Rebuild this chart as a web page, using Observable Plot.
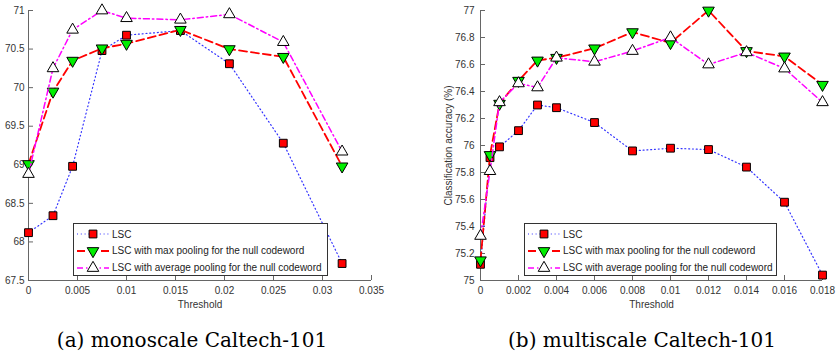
<!DOCTYPE html>
<html><head><meta charset="utf-8">
<script src="https://cdn.jsdelivr.net/npm/d3@7"></script>
<script src="https://cdn.jsdelivr.net/npm/@observablehq/plot@0.6"></script>
<style>
body{margin:0;background:#fff;}
#root{position:relative;width:837px;height:353px;overflow:hidden;font-family:"Liberation Sans",Arial,sans-serif;background:#fff;}
.panel{position:absolute;top:0;}
.legend{position:absolute;border:1px solid #333;background:#fff;box-sizing:border-box;font-size:10px;color:#222;}
.row{position:absolute;left:0;height:16px;display:flex;align-items:center;white-space:nowrap;}
.row svg{display:block;}
.caption{position:absolute;font-family:"DejaVu Serif",serif;font-size:20px;line-height:20px;color:#000;transform:translateX(-50%);white-space:nowrap;}
</style></head><body><div id="root"></div>
<script>
// ---- data ----
const seriesNames = ["LSC", "LSC with max pooling for the null codeword", "LSC with average pooling for the null codeword"];
const monoThreshold = [0, 0.0025, 0.0045, 0.0075, 0.01, 0.0155, 0.0205, 0.026, 0.032];
const monoLSC = [68.12, 68.34, 68.98, 70.48, 70.68, 70.74, 70.31, 69.28, 67.72];
const monoMax = [69.01, 69.95, 70.35, 70.51, 70.57, 70.75, 70.50, 70.40, 68.98];
const monoAvg = [68.88, 70.25, 70.75, 71.00, 70.90, 70.88, 70.95, 70.59, 69.17];
const multiThreshold = [0, 0.0005, 0.001, 0.002, 0.003, 0.004, 0.006, 0.008, 0.01, 0.012, 0.014, 0.016, 0.018];
const multiLSC = [75.12, 75.91, 75.99, 76.11, 76.30, 76.28, 76.17, 75.96, 75.98, 75.97, 75.84, 75.58, 75.04];
const multiMax = [75.15, 75.93, 76.31, 76.48, 76.63, 76.65, 76.72, 76.84, 76.76, 77.00, 76.70, 76.66, 76.45];
const multiAvg = [75.33, 75.81, 76.32, 76.46, 76.43, 76.65, 76.62, 76.70, 76.80, 76.60, 76.69, 76.57, 76.32];
const monoXTicks = [0, 0.005, 0.01, 0.015, 0.02, 0.025, 0.03, 0.035];
const monoYTicks = [67.5, 68, 68.5, 69, 69.5, 70, 70.5, 71];
const multiXTicks = [0, 0.002, 0.004, 0.006, 0.008, 0.01, 0.012, 0.014, 0.016, 0.018];
const multiYTicks = [75, 75.2, 75.4, 75.6, 75.8, 76, 76.2, 76.4, 76.6, 76.8, 77];
const xLabel = "Threshold";
const multiYLabel = "Classification accuracy (%)";
const captions = ["(a) monoscale Caltech-101", "(b) multiscale Caltech-101"];

// ---- styles ----
const axisColor = "#666";
const textColor = "#333";
const styles = [
  {stroke: "#3333ff", dash: "1,2.8", width: 1.2, symbol: "square", fill: "#ff0000", rotate: 0, r: 4.4},
  {stroke: "#ff0000", dash: "8,4", width: 1.8, symbol: "triangle", fill: "#00ee00", rotate: 180, r: 4.3},
  {stroke: "#ff00ff", dash: "6,3,1.5,3", width: 1.5, symbol: "triangle", fill: "#ffffff", rotate: 0, r: 4.3}
];
const fmt = d => String(+d.toFixed(4));

function panel(cfg) {
  const marks = [
    Plot.ruleX([cfg.xDomain[0]], {stroke: axisColor}),
    Plot.ruleY([cfg.yDomain[0]], {stroke: axisColor}),
    Plot.ruleX(cfg.xTicks, {x: d => d, y1: cfg.yDomain[0], y2: cfg.yDomain[0], insetTop: -5, stroke: axisColor}),
    Plot.ruleY(cfg.yTicks, {y: d => d, x1: cfg.xDomain[0], x2: cfg.xDomain[0], insetRight: -5, stroke: axisColor}),
    Plot.axisX(cfg.xTicks, {tickSize: 0, tickPadding: 6, tickFormat: fmt, label: null, fontSize: 10}),
    Plot.axisY(cfg.yTicks, {tickSize: 0, tickPadding: cfg.yPad, tickFormat: fmt, label: null, fontSize: 10}),
    Plot.text([xLabel], {frameAnchor: "bottom", dy: 27, fontSize: 10, fill: textColor})
  ];
  if (cfg.yLabel) marks.push(Plot.text([cfg.yLabel], {frameAnchor: "left", rotate: -90, dx: -32, textAnchor: "middle", fontSize: 10, fill: textColor}));
  cfg.series.forEach((vals, k) => {
    const s = styles[k];
    const rows = cfg.x.map((x, i) => ({x, y: vals[i]}));
    marks.push(Plot.line(rows, {x: "x", y: "y", stroke: s.stroke, strokeWidth: s.width, strokeDasharray: s.dash}));
    marks.push(Plot.dot(rows, {x: "x", y: "y", symbol: s.symbol, r: s.r, fill: s.fill, stroke: "#000", strokeWidth: 1, rotate: s.rotate}));
  });
  return Plot.plot({
    width: cfg.width, height: 320,
    marginLeft: cfg.marginLeft, marginRight: cfg.marginRight, marginTop: 10, marginBottom: 40,
    style: {fontFamily: "'Liberation Sans', Arial, sans-serif", fontSize: "10px", color: textColor, background: "transparent"},
    x: {type: "linear", domain: cfg.xDomain},
    y: {type: "linear", domain: cfg.yDomain},
    marks
  });
}

function legend(left, top, width) {
  const div = document.createElement("div");
  div.className = "legend";
  Object.assign(div.style, {left: left + "px", top: top + "px", width: width + "px", height: "53px"});
  seriesNames.forEach((name, k) => {
    const s = styles[k];
    const row = document.createElement("div");
    row.className = "row";
    row.style.top = (2 + k * 16.8) + "px";
    const svg = d3.create("svg").attr("width", 38).attr("height", 16);
    svg.append("line").attr("x1", 3).attr("x2", 35).attr("y1", 8).attr("y2", 8)
      .attr("stroke", s.stroke).attr("stroke-width", s.width).attr("stroke-dasharray", s.dash);
    const type = s.symbol === "square" ? d3.symbolSquare : d3.symbolTriangle;
    svg.append("path").attr("d", d3.symbol(type, Math.PI * s.r * s.r)())
      .attr("transform", `translate(19,8) rotate(${s.rotate})`)
      .attr("fill", s.fill).attr("stroke", "#000").attr("stroke-width", 1);
    row.appendChild(svg.node());
    const t = document.createElement("span");
    t.textContent = name;
    row.appendChild(t);
    div.appendChild(row);
  });
  return div;
}

const root = document.getElementById("root");
const p1 = panel({x: monoThreshold, series: [monoLSC, monoMax, monoAvg], xDomain: [0, 0.035], yDomain: [67.5, 71],
  xTicks: monoXTicks, yTicks: monoYTicks, width: 418, marginLeft: 28, marginRight: 47, yPad: 4});
const d1 = document.createElement("div"); d1.className = "panel"; d1.style.left = "0px"; d1.appendChild(p1); root.appendChild(d1);
const p2 = panel({x: multiThreshold, series: [multiLSC, multiMax, multiAvg], xDomain: [0, 0.018], yDomain: [75, 77],
  xTicks: multiXTicks, yTicks: multiYTicks, width: 419, marginLeft: 62, marginRight: 15, yPad: 6, yLabel: multiYLabel});
const d2 = document.createElement("div"); d2.className = "panel"; d2.style.left = "418px"; d2.appendChild(p2); root.appendChild(d2);
root.appendChild(legend(73, 223, 255));
root.appendChild(legend(524, 223, 253));
[[192, captions[0]], [642, captions[1]]].forEach(([cx, txt]) => {
  const c = document.createElement("div");
  c.className = "caption"; c.style.left = cx + "px"; c.style.top = "330px"; c.textContent = txt;
  root.appendChild(c);
});
</script></body></html>
